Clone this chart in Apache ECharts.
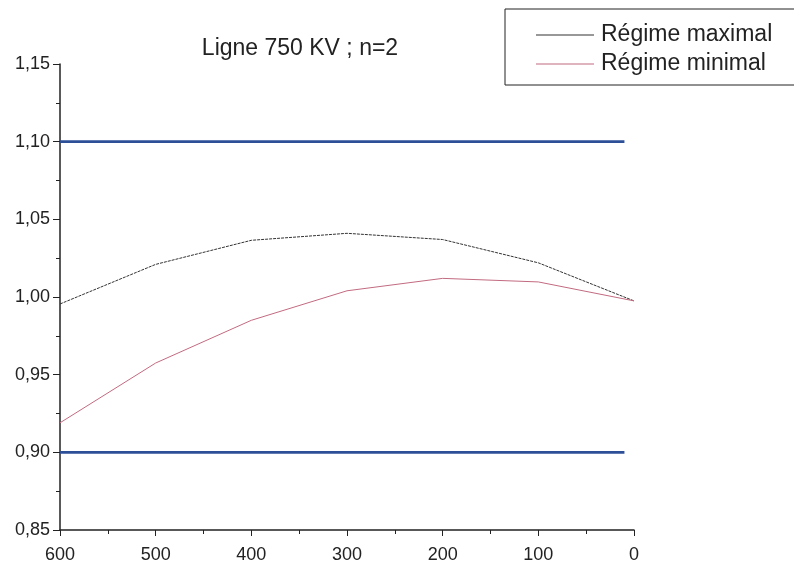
<!DOCTYPE html>
<html>
<head>
<meta charset="utf-8">
<script src="https://cdn.jsdelivr.net/npm/echarts@6/dist/echarts.min.js"></script>
<style>
  html, body { margin: 0; padding: 0; background: #fff; }
  #chart { width: 794px; height: 565px; }
</style>
</head>
<body>
<div id="chart"></div>
<script>
// distances (km)
const distances = [600, 500, 400, 300, 200, 100, 0]
const regimeMaximal = [0.9955, 1.021, 1.0365, 1.041, 1.037, 1.022, 0.9975]
const regimeMinimal = [0.919, 0.9575, 0.985, 1.004, 1.012, 1.0097, 0.9975]
// limites admissibles
const limitX = [600, 10]
const limitHaut = [1.10, 1.10]
const limitBas = [0.90, 0.90]

const pairs = (xs, ys) => xs.map((x, i) => [x, ys[i]])
const fmt = v => v.toFixed(2).replace('.', ',')

const chart = echarts.init(document.getElementById('chart'))

const option = {
  animation: false,
  title: {
    text: 'Ligne 750 KV ; n=2',
    left: 295,
    top: 32,
    textAlign: 'center',
    textStyle: { fontFamily: 'Liberation Sans', fontSize: 23, fontWeight: 'normal', color: '#222' }
  },
  legend: {
    orient: 'vertical',
    left: 505,
    top: 9,
    padding: [14, 30, 9, 31],
    borderColor: '#222',
    borderWidth: 1,
    itemWidth: 58,
    itemHeight: 1,
    itemGap: 5,
    icon: 'rect',
    textStyle: { fontFamily: 'Liberation Sans', fontSize: 23, lineHeight: 24, color: '#222', padding: [0, 0, 0, 2] },
    data: ['Régime maximal', 'Régime minimal']
  },
  grid: { left: 60, right: 160, top: 64, bottom: 35 },
  xAxis: {
    type: 'value',
    min: 0,
    max: 600,
    interval: 100,
    inverse: true,
    splitLine: { show: false },
    axisLine: { onZero: false, lineStyle: { color: '#222', width: 1.5 } },
    axisTick: { length: 6, lineStyle: { color: '#222' } },
    minorTick: { show: true, splitNumber: 2, length: 4, lineStyle: { color: '#222' } },
    axisLabel: { fontFamily: 'Liberation Sans', fontSize: 18, color: '#222', margin: 16 }
  },
  yAxis: {
    type: 'value',
    position: 'left',
    min: 0.85,
    max: 1.15,
    interval: 0.05,
    splitLine: { show: false },
    axisLine: { show: true, onZero: false, lineStyle: { color: '#222', width: 1.5 } },
    axisTick: { show: true, length: 7, lineStyle: { color: '#222' } },
    minorTick: { show: true, splitNumber: 2, length: 4, lineStyle: { color: '#222' } },
    axisLabel: { fontFamily: 'Liberation Sans', fontSize: 18, color: '#222', margin: 10, formatter: fmt }
  },
  series: [
    {
      name: 'Régime maximal',
      type: 'line',
      data: pairs(distances, regimeMaximal),
      showSymbol: false,
      color: '#333',
      lineStyle: { width: 1, color: '#333', type: [3, 1] }
    },
    {
      name: 'Régime minimal',
      type: 'line',
      data: pairs(distances, regimeMinimal),
      showSymbol: false,
      color: '#c26a80',
      lineStyle: { width: 1, color: '#c26a80' }
    },
    {
      name: 'limite haute',
      type: 'line',
      data: pairs(limitX, limitHaut),
      showSymbol: false,
      lineStyle: { width: 2.8, color: '#2d4f98' }
    },
    {
      name: 'limite basse',
      type: 'line',
      data: pairs(limitX, limitBas),
      showSymbol: false,
      lineStyle: { width: 2.8, color: '#2d4f98' }
    }
  ]
}

chart.setOption(option)
</script>
</body>
</html>
